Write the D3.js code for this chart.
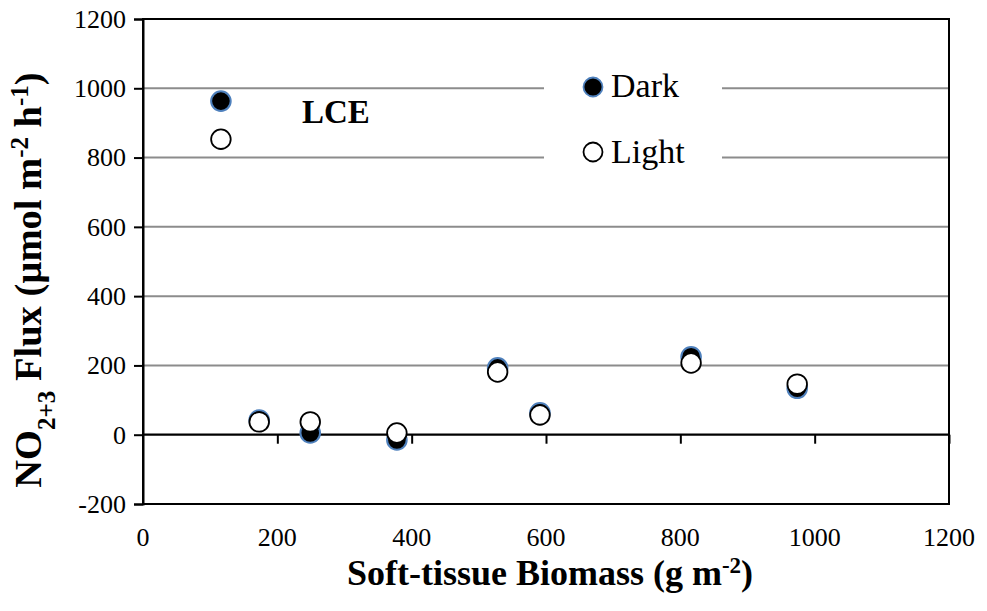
<!DOCTYPE html>
<html>
<head>
<meta charset="utf-8">
<script src="https://cdn.jsdelivr.net/npm/d3@7"></script>
<style>
  html, body { margin: 0; padding: 0; background: #fff; }
  svg { display: block; }
  svg text { font-family: "Liberation Serif", "Times New Roman", serif; fill: #000; }
</style>
</head>
<body>
<svg id="chart" width="987" height="611"></svg>
<script>
// Soft-tissue biomass (g m-2) at each site
const biomass = [116, 173, 249, 378, 528, 591, 816, 974];
// NO2+3 flux (µmol m-2 h-1) under dark and light incubations
const darkFlux = [963, 42, 5, -15, 193, 63, 225, 134];
const lightFlux = [853, 37, 37, 5, 181, 57, 207, 146];
// Axis ticks
const xTicks = [0, 200, 400, 600, 800, 1000, 1200];
const yTicks = [-200, 0, 200, 400, 600, 800, 1000, 1200];

const svg = d3.select("#chart");
const plotLeft = 143, plotRight = 949, plotTop = 19, plotBottom = 504;

const x = d3.scaleLinear().domain([0, 1200]).range([plotLeft, plotRight]);
const y = d3.scaleLinear().domain([-200, 1200]).range([plotBottom, plotTop]);

// Horizontal gridlines
svg.append("g")
  .selectAll("line")
  .data(yTicks.filter(v => v > 0 && v < 1200))
  .join("line")
  .attr("x1", plotLeft).attr("x2", plotRight)
  .attr("y1", d => y(d)).attr("y2", d => y(d))
  .attr("stroke", "#8c8c8c").attr("stroke-width", 2);

// Plot frame
svg.append("rect")
  .attr("x", plotLeft).attr("y", plotTop)
  .attr("width", plotRight - plotLeft).attr("height", plotBottom - plotTop)
  .attr("fill", "none").attr("stroke", "#000").attr("stroke-width", 2);

// Y axis (ticks outward, labels on the left)
const yAxis = d3.axisLeft(y).tickValues(yTicks).tickSize(9).tickPadding(8)
  .tickFormat(d => String(d));
const gy = svg.append("g").attr("transform", `translate(${plotLeft},0)`).call(yAxis);
gy.attr("font-family", null).attr("font-size", null);
gy.select(".domain").attr("stroke-width", 2);
gy.selectAll(".tick line").attr("stroke-width", 2);
gy.selectAll(".tick text")
  .style("font-family", "'Liberation Serif', serif").style("font-size", "26px").attr("fill", "#000");

// X axis drawn along zero, ticks pointing down
const xAxis = d3.axisBottom(x).tickValues(xTicks).tickSize(9).tickFormat("");
const gx = svg.append("g").attr("transform", `translate(0,${y(0)})`).call(xAxis);
gx.select(".domain").attr("stroke-width", 2.2).attr("d", `M${plotLeft},0H${plotRight}`);
gx.selectAll(".tick line").attr("stroke-width", 2)
  .attr("display", d => (d === 0 ? "none" : null));

// X tick labels below the plot frame
svg.append("g")
  .selectAll("text")
  .data(xTicks)
  .join("text")
  .attr("x", d => x(d)).attr("y", 546)
  .attr("text-anchor", "middle")
  .style("font-size", "26px")
  .text(d => d);

// Legend box hides the gridlines behind it
svg.append("rect")
  .attr("x", 544).attr("y", 62).attr("width", 178).attr("height", 118)
  .attr("fill", "#fff");

// Data markers: dark first, light on top
const pts = biomass.map((b, i) => ({ b, dark: darkFlux[i], light: lightFlux[i] }));
svg.append("g").selectAll("circle")
  .data(pts).join("circle")
  .attr("cx", d => x(d.b)).attr("cy", d => y(d.dark)).attr("r", 9.8)
  .attr("fill", "#000").attr("stroke", "#4f81bd").attr("stroke-width", 2);
svg.append("g").selectAll("circle")
  .data(pts).join("circle")
  .attr("cx", d => x(d.b)).attr("cy", d => y(d.light)).attr("r", 9.8)
  .attr("fill", "#fff").attr("stroke", "#000").attr("stroke-width", 1.8);

// Legend entries
const legend = [
  { label: "Dark", fill: "#000", stroke: "#4f81bd", cy: 87, ty: 97 },
  { label: "Light", fill: "#fff", stroke: "#000", cy: 152, ty: 163 }
];
const lg = svg.append("g");
lg.selectAll("circle").data(legend).join("circle")
  .attr("cx", 593).attr("cy", d => d.cy).attr("r", 9.5)
  .attr("fill", d => d.fill).attr("stroke", d => d.stroke).attr("stroke-width", 1.8);
lg.selectAll("text").data(legend).join("text")
  .attr("x", 611).attr("y", d => d.ty)
  .style("font-size", "34px")
  .text(d => d.label);

// Site annotation
svg.append("text")
  .attr("x", 302).attr("y", 123)
  .style("font-size", "33px").style("font-weight", "bold")
  .text("LCE");

// X axis title
const xt = svg.append("text")
  .attr("x", (plotLeft + plotRight) / 2 + 4).attr("y", 585)
  .attr("text-anchor", "middle")
  .style("font-size", "36px").style("font-weight", "bold");
xt.append("tspan").text("Soft-tissue Biomass (g m");
xt.append("tspan").attr("baseline-shift", "super").style("font-size", "23px").text("-2");
xt.append("tspan").text(")");

// Y axis title
const yt = svg.append("text")
  .attr("transform", "translate(41,280) rotate(-90)")
  .attr("text-anchor", "middle")
  .style("font-size", "38.5px").style("font-weight", "bold");
yt.append("tspan").text("NO");
yt.append("tspan").attr("baseline-shift", "sub").style("font-size", "25px").text("2+3");
yt.append("tspan").text(" Flux (µmol m");
yt.append("tspan").attr("baseline-shift", "super").style("font-size", "25px").text("-2");
yt.append("tspan").text(" h");
yt.append("tspan").attr("baseline-shift", "super").style("font-size", "25px").text("-1");
yt.append("tspan").text(")");
</script>
</body>
</html>
